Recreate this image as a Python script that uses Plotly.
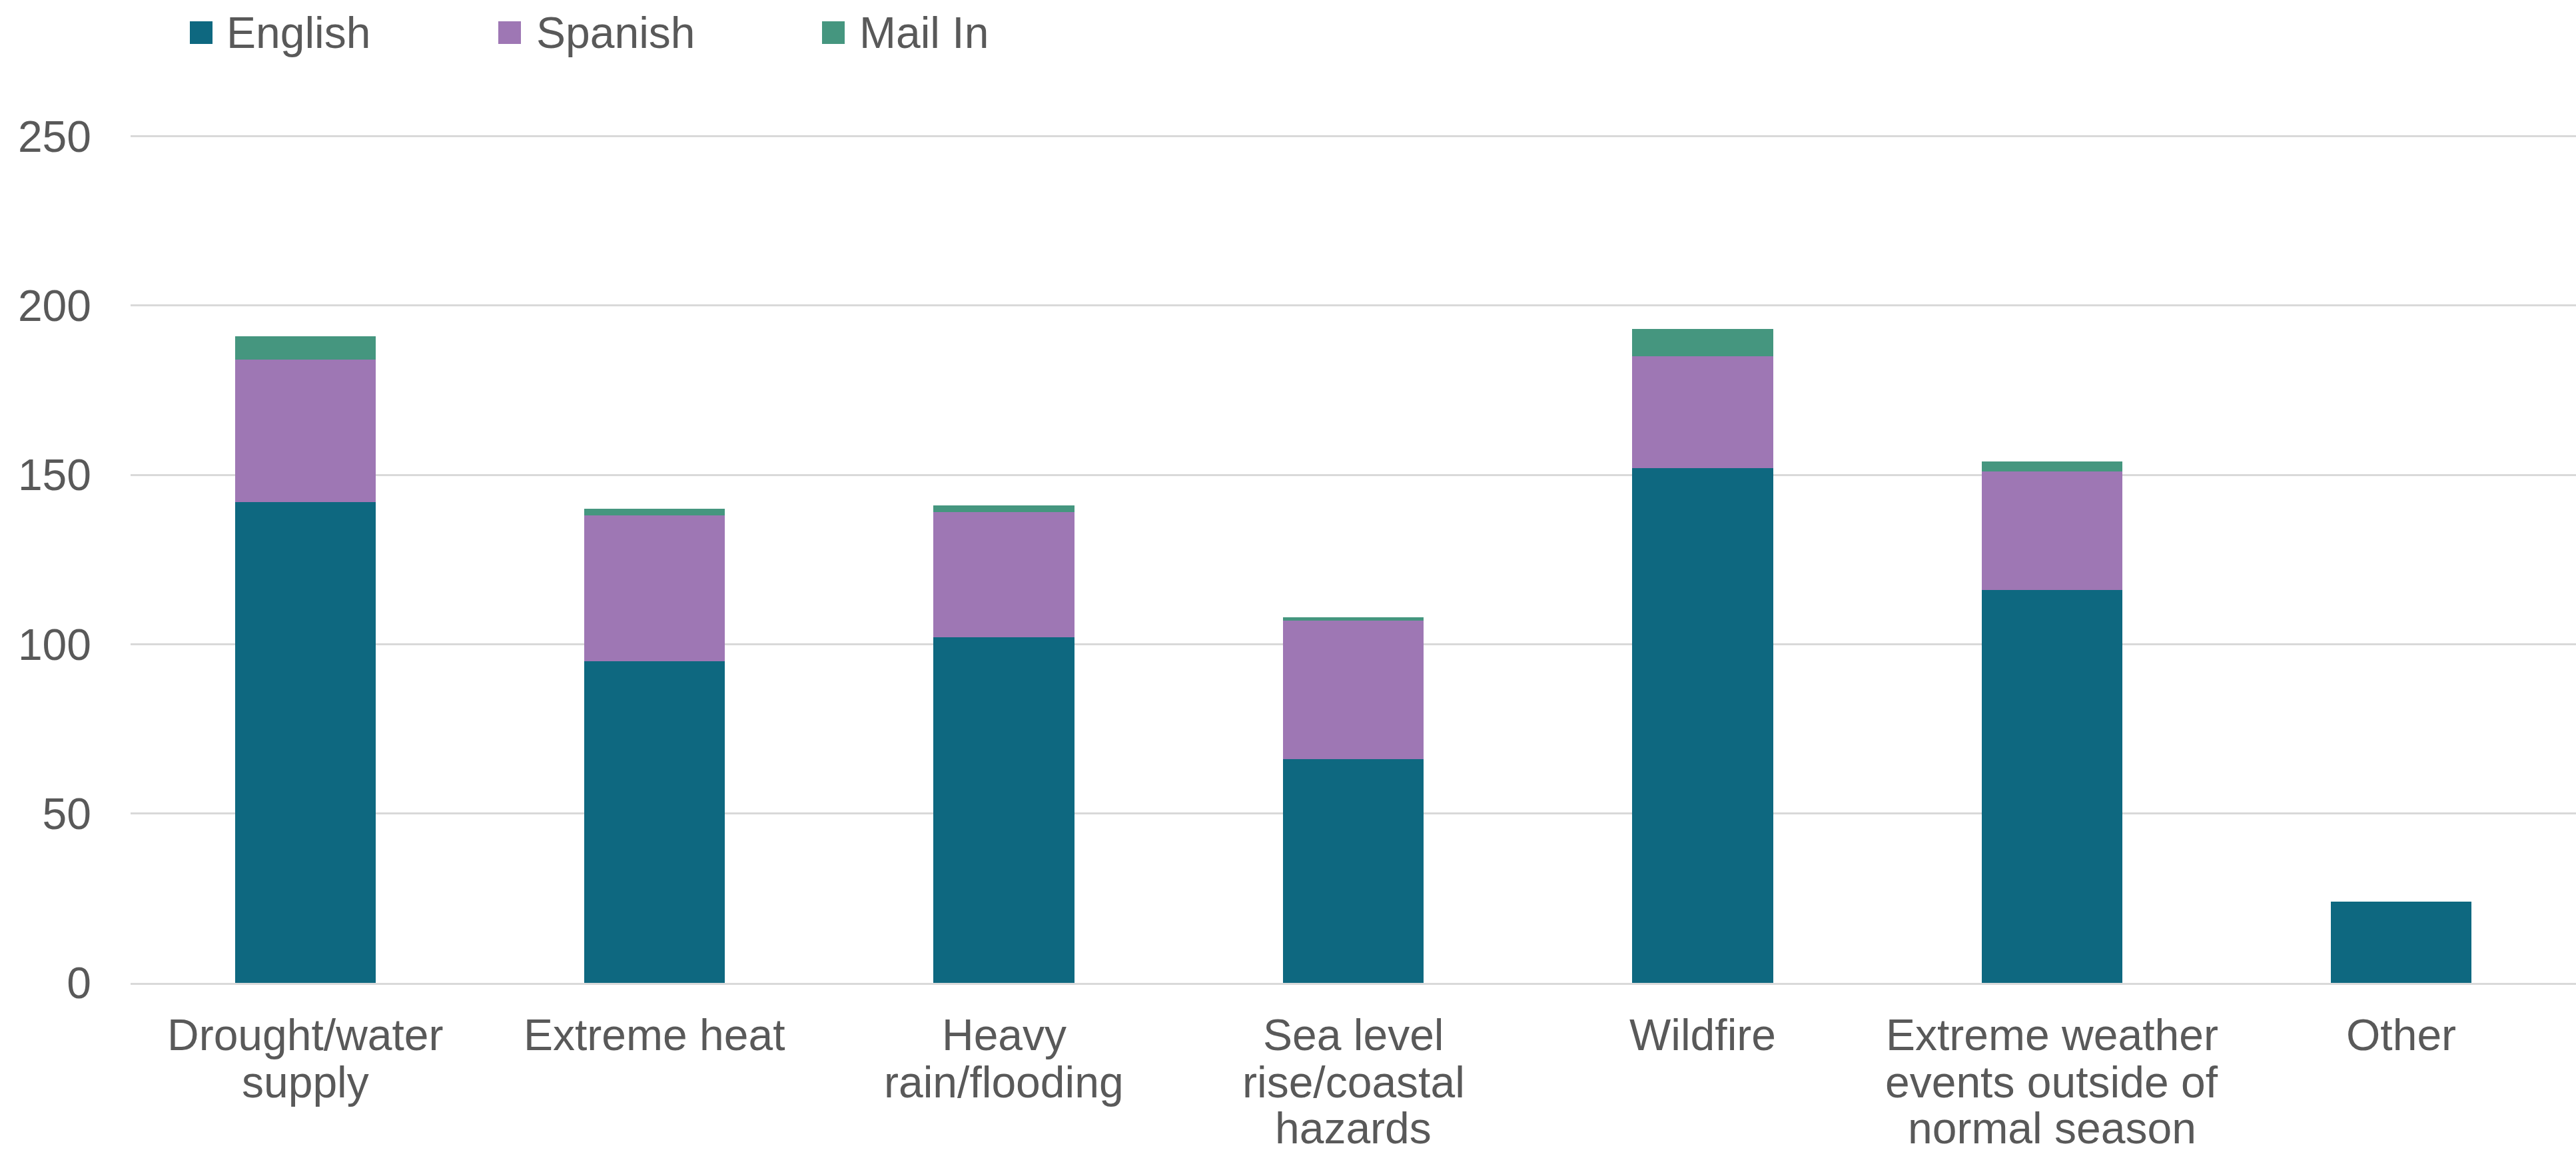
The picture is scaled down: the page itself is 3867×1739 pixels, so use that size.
import plotly.graph_objects as go

# Survey responses by climate hazard, split by response channel
categories = [
    "Drought/water supply",
    "Extreme heat",
    "Heavy rain/flooding",
    "Sea level rise/coastal hazards",
    "Wildfire",
    "Extreme weather events outside of normal season",
    "Other",
]
# How each category name is wrapped under the axis
category_lines = [
    ["Drought/water", "supply"],
    ["Extreme heat"],
    ["Heavy", "rain/flooding"],
    ["Sea level", "rise/coastal", "hazards"],
    ["Wildfire"],
    ["Extreme weather", "events outside of", "normal season"],
    ["Other"],
]
english = [142, 95, 102, 66, 152, 116, 24]
spanish = [42, 43, 37, 41, 33, 35, 0]
mail_in = [7, 2, 2, 1, 8, 3, 0]

series_names = ["English", "Spanish", "Mail In"]
series_colors = ["#0E6880", "#9E77B4", "#45967F"]
y_ticks = [0, 50, 100, 150, 200, 250]

W, H = 3867, 1739
L, R, T, B = 196, 0, 203, 263
FONT = "Liberation Sans, Arial, sans-serif"
TXT = "#595959"
FS = 66

fig = go.Figure()
for name, vals, col in zip(series_names, [english, spanish, mail_in], series_colors):
    fig.add_trace(go.Bar(
        x=categories, y=vals, name=name,
        marker=dict(color=col, line=dict(width=0)),
        showlegend=False,
    ))

plot_w = W - L - R
plot_h = H - T - B
def px_x(px):
    return (px - L) / plot_w
def px_y(py):
    return (H - B - py) / plot_h

# Legend drawn as swatches + labels along the top
legend_swatch_x = [285, 748, 1234]
legend_text_x = [338, 803, 1288]
sw = 34
cy = 49
for name, col, sx, tx in zip(series_names, series_colors, legend_swatch_x, legend_text_x):
    fig.add_shape(type="rect", xref="paper", yref="paper",
                  x0=px_x(sx), x1=px_x(sx + sw),
                  y0=px_y(cy + sw / 2), y1=px_y(cy - sw / 2),
                  fillcolor=col, line=dict(width=0))
    fig.add_annotation(x=px_x(tx), y=px_y(cy), xref="paper", yref="paper",
                       text=name, showarrow=False, xanchor="left", yanchor="middle",
                       font=dict(family=FONT, size=FS, color=TXT))

# Category labels, one line at a time with a tight line pitch
line_centres = [1554, 1625, 1694]
for cat, lines in zip(categories, category_lines):
    for i, line in enumerate(lines):
        fig.add_annotation(x=cat, y=px_y(line_centres[i]), xref="x", yref="paper",
                           text=line, showarrow=False, xanchor="center", yanchor="middle",
                           font=dict(family=FONT, size=FS, color=TXT))

fig.update_layout(
    width=W, height=H,
    margin=dict(l=L, r=R, t=T, b=B, pad=0, autoexpand=False),
    barmode="stack",
    bargap=0.597,
    plot_bgcolor="white",
    paper_bgcolor="white",
    font=dict(family=FONT, size=FS, color=TXT),
    xaxis=dict(
        showgrid=False, showline=True, linecolor="#D9D9D9", linewidth=3,
        ticks="", showticklabels=False, automargin=False,
    ),
    yaxis=dict(
        range=[0, 250.3], tickvals=y_ticks, showgrid=True, gridcolor="#D9D9D9",
        gridwidth=3, zeroline=False, showline=False, ticks="",
        tickfont=dict(family=FONT, size=FS, color=TXT),
        ticklabelstandoff=58, automargin=False,
    ),
)

fig.write_html("out.html")
